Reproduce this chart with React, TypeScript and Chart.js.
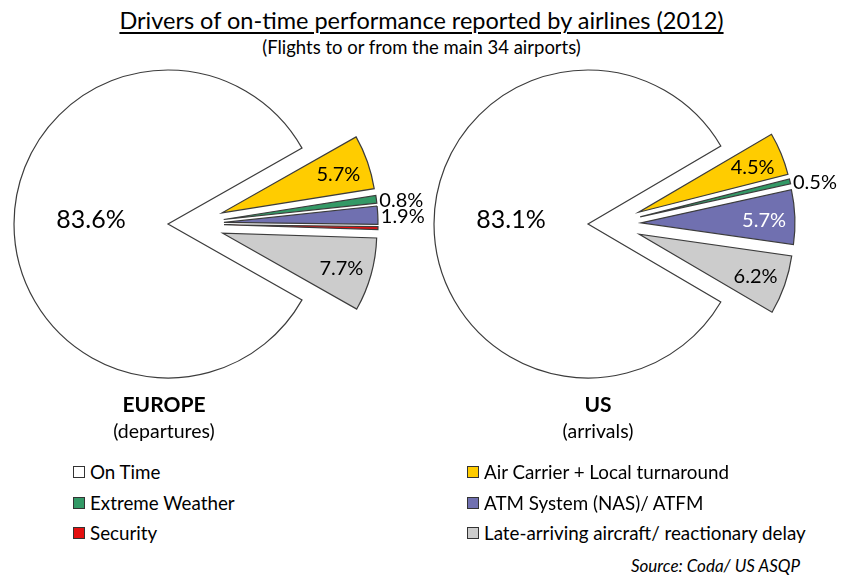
import React, { useEffect, useRef } from 'react';
import { Chart, registerables } from 'chart.js';

Chart.register(...registerables);

// ---------- data ----------
const CATEGORIES = [
  'Air Carrier + Local turnaround',
  'Extreme Weather',
  'ATM System (NAS)/ ATFM',
  'Security',
  'Late-arriving aircraft/ reactionary delay',
  'On Time',
];
const EUROPE_VALUES = [5.7, 0.8, 1.9, 0.3, 7.7, 83.6];
const US_VALUES = [4.5, 0.5, 5.7, 0, 6.2, 83.1];
const COLORS = ['#FFCC00', '#339966', '#7070B0', '#E41010', '#CCCCCC', '#FFFFFF'];
const LABEL_COLORS = ['#000000', '#000000', '#FFFFFF', '#000000', '#000000', '#000000'];
const LEGEND_ORDER = [5, 0, 1, 2, 3, 4];
const TITLE = 'Drivers of on-time performance reported by airlines (2012)';
const SUBTITLE = '(Flights to or from the main 34 airports)';
const REGIONS = ['EUROPE', 'US'];
const REGION_NOTES = ['(departures)', '(arrivals)'];
const SOURCE = 'Source: Coda/ US ASQP';

const ON_TIME = 5;
const FONT = 'Lato, "Open Sans", "DejaVu Sans", sans-serif';

type PieProps = {
  values: number[];
  left: number;
  width: number;
  padRight: number;
  explodeSmall: number;
  explodeMain: number;
};

function ExplodedPie({ values, left, width, padRight, explodeSmall, explodeMain }: PieProps) {
  const ref = useRef<HTMLCanvasElement>(null);
  useEffect(() => {
    const canvas = ref.current!;
    const dist = (i: number) => (i === ON_TIME ? explodeMain : explodeSmall);
    const midOf = (arc: any) => (arc.startAngle + arc.endAngle) / 2;

    const explodePlugin = {
      id: 'explodeSlices',
      beforeDatasetsDraw(chart: any) {
        const ctx = chart.ctx;
        const meta = chart.getDatasetMeta(0);
        meta.data.forEach((arc: any, i: number) => {
          const m = midOf(arc);
          const d = dist(i);
          ctx.save();
          ctx.translate(Math.cos(m) * d, Math.sin(m) * d);
          arc.draw(ctx);
          ctx.restore();
        });
        return false;
      },
    };

    const labelPlugin = {
      id: 'sliceLabels',
      afterDraw(chart: any) {
        const ctx = chart.ctx;
        const meta = chart.getDatasetMeta(0);
        meta.data.forEach((arc: any, i: number) => {
          const v = values[i];
          if (v < 0.4) return;
          const m = midOf(arc);
          const d = dist(i);
          const r = arc.outerRadius;
          const text = v.toFixed(1) + '%';
          ctx.save();
          ctx.textBaseline = 'middle';
          ctx.fillStyle = '#000000';
          if (i === ON_TIME) {
            ctx.font = `25px ${FONT}`;
            ctx.textAlign = 'center';
            const p = d + 0.5 * r;
            ctx.fillText(text, arc.x + Math.cos(m) * p, arc.y + Math.sin(m) * p - 4);
          } else if (v < 2.5) {
            ctx.font = `20px ${FONT}`;
            ctx.textAlign = 'left';
            const p = d + r;
            ctx.fillText(text, arc.x + Math.cos(m) * p + 3, arc.y + Math.sin(m) * p + 1);
          } else {
            ctx.font = `20px ${FONT}`;
            ctx.textAlign = 'center';
            ctx.fillStyle = LABEL_COLORS[i];
            const p = d + 0.8 * r;
            ctx.fillText(text, arc.x + Math.cos(m) * p, arc.y + Math.sin(m) * p + 2);
          }
          ctx.restore();
        });
      },
    };

    const total = values.reduce((a, b) => a + b, 0);
    const smallTotal = total - values[ON_TIME];

    const chart = new Chart(canvas, {
      type: 'pie',
      data: {
        labels: CATEGORIES,
        datasets: [
          {
            data: values,
            backgroundColor: COLORS,
            borderColor: '#3C3C3C',
            borderWidth: 1.2,
            borderJoinStyle: 'miter',
            radius: 154,
          } as any,
        ],
      },
      options: {
        animation: false,
        responsive: false,
        events: [],
        rotation: 90 - (smallTotal / total) * 180,
        layout: { padding: { left: 0, top: 0, bottom: 0, right: padRight } },
        plugins: { legend: { display: false }, tooltip: { enabled: false } },
      } as any,
      plugins: [explodePlugin, labelPlugin],
    });
    return () => chart.destroy();
  }, [values, left, width, padRight, explodeSmall, explodeMain]);

  return (
    <canvas
      ref={ref}
      width={width}
      height={448}
      style={{ position: 'absolute', left, top: 0, width, height: 448, display: 'block' }}
    />
  );
}

function LegendItem({ idx, x, y }: { idx: number; x: number; y: number }) {
  return (
    <div
      style={{
        position: 'absolute',
        left: x,
        top: y - 10,
        height: 20,
        lineHeight: '20px',
        display: 'flex',
        alignItems: 'center',
        fontSize: 18.8,
        whiteSpace: 'nowrap',
      }}
    >
      <span
        style={{
          display: 'inline-block',
          width: 10,
          height: 10,
          border: '1px solid #333',
          background: COLORS[idx],
          marginRight: 5,
        }}
      />
      <span>{CATEGORIES[idx]}</span>
    </div>
  );
}

export default function App() {
  const centersX = [164, 598];
  return (
    <div
      style={{
        position: 'fixed',
        left: 0,
        top: 0,
        width: 843,
        height: 576,
        background: '#FFFFFF',
        fontFamily: FONT,
        color: '#000',
        overflow: 'hidden',
      }}
    >
      <div
        style={{
          position: 'absolute',
          left: 0,
          width: 843,
          top: 8,
          textAlign: 'center',
          fontSize: 23.5,
          lineHeight: '24px',
        }}
      >
        <span style={{ textDecoration: 'underline', textUnderlineOffset: 3, textDecorationThickness: 1.5 }}>
          {TITLE}
        </span>
      </div>
      <div
        style={{
          position: 'absolute',
          left: 0,
          width: 843,
          top: 37,
          textAlign: 'center',
          fontSize: 18.5,
          lineHeight: '20px',
        }}
      >
        {SUBTITLE}
      </div>

      <ExplodedPie values={EUROPE_VALUES} left={0} width={440} padRight={60} explodeSmall={34} explodeMain={22} />
      <ExplodedPie values={US_VALUES} left={420} width={423} padRight={43} explodeSmall={31} explodeMain={22} />

      {REGIONS.map((r, k) => (
        <React.Fragment key={r}>
          <div
            style={{
              position: 'absolute',
              left: centersX[k] - 150,
              width: 300,
              top: 393,
              textAlign: 'center',
              fontSize: 21,
              fontWeight: 'bold',
              lineHeight: '22px',
            }}
          >
            {r}
          </div>
          <div
            style={{
              position: 'absolute',
              left: centersX[k] - 150,
              width: 300,
              top: 421,
              textAlign: 'center',
              fontSize: 19.5,
              lineHeight: '20px',
            }}
          >
            {REGION_NOTES[k]}
          </div>
        </React.Fragment>
      ))}

      {LEGEND_ORDER.map((idx, n) => (
        <LegendItem key={idx} idx={idx} x={n % 2 === 0 ? 73 : 467} y={472 + Math.floor(n / 2) * 30.5} />
      ))}

      <div
        style={{
          position: 'absolute',
          right: 43,
          top: 557,
          fontSize: 17,
          fontStyle: 'italic',
          lineHeight: '18px',
          whiteSpace: 'nowrap',
        }}
      >
        {SOURCE}
      </div>
    </div>
  );
}
